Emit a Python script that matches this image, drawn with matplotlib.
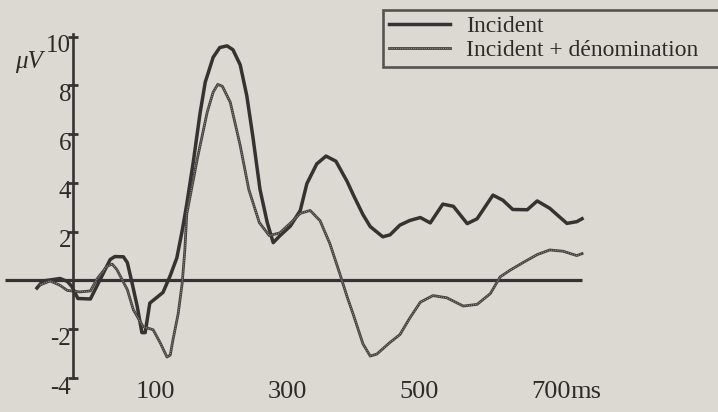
import matplotlib
matplotlib.use("Agg")
import matplotlib.pyplot as plt
from matplotlib.transforms import ScaledTranslation

# time (ms) and amplitude (uV)
t_incident = [-79, -70, -59, -44, -33, -26, -17, 2, 17, 32, 39, 52, 58, 65, 73, 80, 85, 92,
              112, 123, 133, 141, 148, 158, 168, 176, 188, 198, 209, 218, 229, 239, 248, 259,
              270, 279, 289, 305, 320, 330, 345, 359, 374, 391, 400, 415, 426, 445, 456, 471,
              486, 502, 517, 536, 552, 573, 588, 612, 627, 642, 664, 679, 698, 724, 739, 747]
v_incident = [-0.31, -0.02, 0.02, 0.08, -0.04, -0.25, -0.74, -0.76, 0.05, 0.86, 0.98, 0.97, 0.73,
              -0.09, -1.07, -2.14, -2.14, -0.93, -0.49, 0.2, 0.93, 2.03, 3.13, 4.88, 6.83, 8.13,
              9.15, 9.55, 9.62, 9.46, 8.84, 7.57, 5.93, 3.73, 2.37, 1.55, 1.83, 2.23, 2.87, 3.97,
              4.78, 5.1, 4.89, 4.06, 3.53, 2.7, 2.21, 1.79, 1.87, 2.27, 2.46, 2.58, 2.36, 3.13,
              3.04, 2.33, 2.53, 3.5, 3.29, 2.91, 2.9, 3.26, 2.96, 2.34, 2.41, 2.53]

t_denom = [-74, -59, -44, -33, -14, 2, 12, 27, 35, 42, 58, 67, 82, 97, 108, 118, 123, 127, 135,
           141, 145, 148, 164, 179, 188, 195, 202, 214, 229, 242, 258, 273, 289, 305, 320, 335,
           350, 365, 380, 391, 400, 415, 426, 436, 456, 471, 486, 502, 521, 542, 567, 588, 608,
           623, 638, 658, 679, 698, 718, 739, 747]
v_denom = [-0.18, -0.02, -0.2, -0.41, -0.47, -0.43, 0.06, 0.58, 0.67, 0.45, -0.38, -1.2, -1.9,
           -2.02, -2.57, -3.14, -3.06, -2.45, -1.36, -0.13, 1.21, 2.72, 4.99, 6.9, 7.72, 8.04,
           7.96, 7.3, 5.53, 3.73, 2.37, 1.84, 1.95, 2.35, 2.75, 2.87, 2.45, 1.5, 0.27, -0.67,
           -1.37, -2.6, -3.1, -3.02, -2.54, -2.22, -1.54, -0.89, -0.62, -0.71, -1.05, -0.98,
           -0.54, 0.15, 0.42, 0.74, 1.06, 1.25, 1.2, 1.02, 1.1]

baseline_t = [-127, 747]
y_ticks = [-4, -2, 2, 4, 6, 8, 10]
x_ticks = [100, 300, 500, 700]
x_labels = ["100", "300", "500", "700"]

bg = "#dcd9d2"
ink = "#363232"
txt = "#2e2a2a"
font = "Liberation Serif"

fig = plt.figure(figsize=(7.18, 4.12), dpi=100, facecolor=bg)
ax = fig.add_axes([0, 34 / 412, 1, 378 / 412], facecolor=bg)
ax.set_xlim(-135, 953)
ax.set_ylim(-4, 11.5)

ax.plot(baseline_t, [0, 0], color=ink, lw=2.3, solid_capstyle="butt")
l1, = ax.plot(t_incident, v_incident, color=ink, lw=2.5, label="Incident")
l2a, = ax.plot(t_denom, v_denom, color="#454040", lw=2.0)
l2b, = ax.plot(t_denom, v_denom, color="#9c968f", lw=0.7, dashes=(1, 1.2))

for s in ["top", "right", "bottom"]:
    ax.spines[s].set_visible(False)
ax.spines["left"].set_position(("data", -24))
ax.spines["left"].set_bounds(-4, 10.1)
ax.spines["left"].set_linewidth(1.9)
ax.spines["left"].set_color(ink)

ax.set_yticks(y_ticks)
ax.set_yticklabels([str(v) for v in y_ticks], fontfamily=font, fontsize=18, color=txt)
ax.tick_params(axis="y", direction="inout", length=7, width=2, color=ink, pad=-2)
for lab in ax.get_yticklabels():
    lab.set_transform(lab.get_transform() + ScaledTranslation(0, -0.07, fig.dpi_scale_trans))

ax.set_xticks(x_ticks)
ax.set_xticklabels(x_labels, fontfamily=font, fontsize=19, color=txt)
ax.tick_params(axis="x", length=0, pad=2)
ax.annotate("ms", xy=(700, 0), xycoords=("data", "axes fraction"), xytext=(14.3, -2),
            textcoords="offset points", ha="left", va="top", fontfamily=font, fontsize=19,
            color=txt)

fig.text(15 / 718, 1 - 62 / 412, "μV", fontfamily=font, fontsize=18, style="italic",
         color=txt, va="center")

leg = fig.legend([l1, (l2a, l2b)], ["Incident", "Incident + dénomination"],
                 loc="upper left", bbox_to_anchor=(383 / 718, 1 - 10 / 412, 345 / 718, 0),
                 mode="expand", prop={"family": font, "size": 17}, frameon=True,
                 fancybox=False, handlelength=2.6, handletextpad=0.65, borderpad=0.25,
                 labelspacing=0.08, borderaxespad=0)
leg.get_frame().set_edgecolor(ink)
leg.get_frame().set_linewidth(1.9)
leg.get_frame().set_facecolor(bg)
for t in leg.get_texts():
    t.set_color(txt)

fig.savefig("out.png", dpi=100, facecolor=bg)
